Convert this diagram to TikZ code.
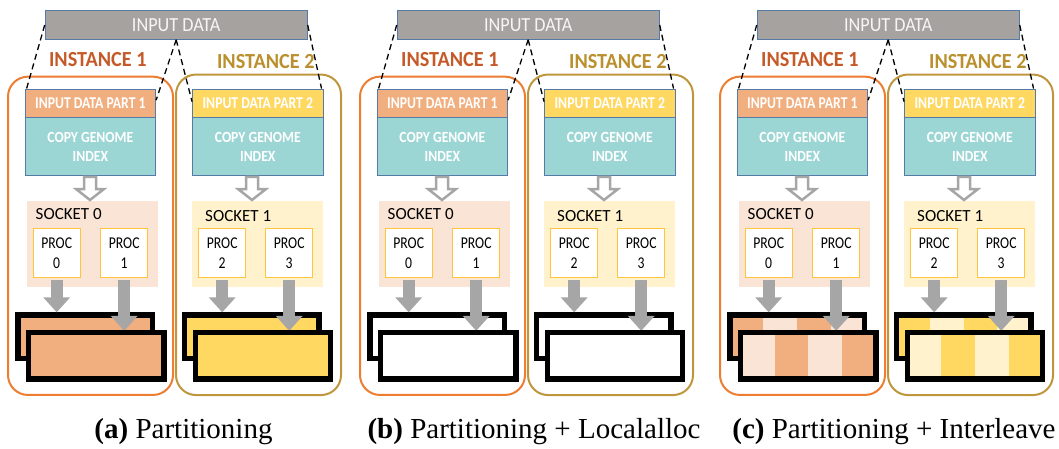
\documentclass[tikz,border=0pt]{standalone}
\usepackage{fontspec}
\setmainfont{Liberation Serif}
\newfontfamily\fInput[FakeStretch=0.91]{Carlito}
\newfontfamily\fInst[FakeStretch=0.94]{Carlito}
\newfontfamily\fPart[FakeStretch=0.83]{Carlito}
\newfontfamily\fCopy[FakeStretch=0.88]{Carlito}
\newfontfamily\fSock{Carlito}
\newfontfamily\fProc[FakeStretch=0.83]{Carlito}
\usetikzlibrary{arrows.meta,calc}

\definecolor{inputgray}{RGB}{166,162,160}
\definecolor{boxedge}{RGB}{84,122,165}
\definecolor{instA}{RGB}{197,90,40}
\definecolor{instB}{RGB}{186,143,45}
\definecolor{frameA}{RGB}{237,125,49}
\definecolor{frameB}{RGB}{191,150,60}
\definecolor{partA}{RGB}{241,174,126}
\definecolor{partB}{RGB}{255,216,98}
\definecolor{genome}{RGB}{156,214,212}
\definecolor{sockA}{RGB}{250,228,214}
\definecolor{sockB}{RGB}{255,242,204}
\definecolor{procedge}{RGB}{255,196,60}
\definecolor{arrgray}{RGB}{166,166,166}

% light stripe across a fraction of the box holding the path picture
\newcommand\quarterfill[3]{%
  \fill[#1] ($(path picture bounding box.south west)!#2!(path picture bounding box.south east)$)
    rectangle ($(path picture bounding box.north west)!#3!(path picture bounding box.north east)$);}

\tikzset{
  inbox/.style={draw=boxedge, line width=1pt, fill=inputgray, minimum width=262pt,
    minimum height=28.6pt, inner sep=0pt, text=white!93!gray,
    font=\fInput\fontsize{20}{22}\selectfont},
  instlabel/.style={inner sep=0pt, font=\fInst\bfseries\fontsize{21.5}{24}\selectfont},
  instframe/.style={rounded corners=20pt, line width=2pt, minimum width=165pt, inner sep=0pt},
  partbox/.style={draw=boxedge, line width=0.8pt, minimum width=130.7pt, minimum height=28.3pt,
    inner sep=0pt, text=white, font=\fPart\bfseries\fontsize{16.5}{18}\selectfont},
  genbox/.style={draw=boxedge, line width=0.8pt, fill=genome, minimum width=130.7pt,
    minimum height=58.4pt, inner sep=0pt, align=center, text=white,
    font=\fCopy\bfseries\fontsize{15.5}{19}\selectfont},
  sockbox/.style={minimum width=131pt, minimum height=85.7pt, inner sep=0pt},
  socktext/.style={anchor=west, inner sep=0pt, font=\fSock\fontsize{17}{19}\selectfont},
  procbox/.style={draw=procedge, line width=1pt, fill=white, minimum width=46.7pt,
    minimum height=49.7pt, inner sep=0pt, align=center,
    font=\fProc\fontsize{16.5}{19.7}\selectfont},
  membox/.style={draw=black, line width=5.5pt, inner sep=0pt},
  memback/.style={membox, minimum width=134.5pt, minimum height=43.2pt},
  memfront/.style={membox, minimum width=135.2pt, minimum height=46.2pt},
  stripeback/.style 2 args={fill=#1, path picture={\quarterfill{#2}{0.25}{0.5}\quarterfill{#2}{0.75}{1}}},
  stripefront/.style 2 args={fill=#1, path picture={\quarterfill{#2}{0}{0.25}\quarterfill{#2}{0.5}{0.75}}},
  garr/.style={draw=arrgray, line width=12pt, -{Triangle[width=26pt,length=15pt]}},
  hollow/.style={draw=arrgray, line width=2.5pt, fill=white, line join=miter},
  datalink/.style={dash pattern=on 6pt off 4pt, line width=1.3pt},
  capt/.style={anchor=base, inner sep=0pt, font=\fontsize{29}{32}\selectfont}
}

% one panel: prefix, x offset, memory styles (inst 1 back/front, inst 2 back/front)
\newcommand\drawpanel[6]{%
\begin{scope}[xshift=#2]
  % instance frames
  \node[instframe, draw=frameA, minimum height=318.3pt] (#1-f1) at (90.5,235.8) {};
  \node[instframe, draw=frameB, minimum height=320.5pt] (#1-f2) at (258.5,234.8) {};
  % shared input
  \node[inbox] (#1-in) at (176.2,25) {INPUT DATA};
  \node[instlabel, text=instA] (#1-l1) at (97.8,60) {INSTANCE 1};
  \node[instlabel, text=instB] (#1-l2) at (265.8,61.5) {INSTANCE 2};
  % per-instance data and index
  \node[partbox, fill=partA] (#1-p1) at (90.35,103.15) {INPUT DATA PART 1};
  \node[genbox] (#1-g1) at (90.35,146.5) {COPY GENOME\\INDEX};
  \node[partbox, fill=partB] (#1-p2) at (257.8,103.15) {INPUT DATA PART 2};
  \node[genbox] (#1-g2) at (257.8,146.5) {COPY GENOME\\INDEX};
  % split of the input
  \draw[datalink] (#1-in.west) -- ([xshift=2pt]#1-p1.north west);
  \draw[datalink] (#1-in.south) -- ([yshift=3pt]#1-p1.east);
  \draw[datalink] (#1-in.south) -- ([yshift=1.5pt]#1-p2.west);
  \draw[datalink] (#1-in.east) -- ([xshift=-2pt]#1-p2.north east);
  % sockets and processes
  \node[sockbox, fill=sockA] (#1-s0) at (92.2,243.85) {};
  \node[socktext] (#1-t0) at (35.5,214) {SOCKET 0};
  \node[procbox] (#1-c0) at (56.7,253) {PROC\\0};
  \node[procbox] (#1-c1) at (124.2,253) {PROC\\1};
  \node[sockbox, fill=sockB] (#1-s1) at (257.2,243.85) {};
  \node[socktext] (#1-t1) at (205,216) {SOCKET 1};
  \node[procbox] (#1-c2) at (222.2,253) {PROC\\2};
  \node[procbox] (#1-c3) at (289.2,253) {PROC\\3};
  % copy of the index into each socket
  \coordinate (#1-h1) at (90,177);
  \coordinate (#1-h2) at (252,177);
  \draw[hollow] (#1-h1) ++(-6,0) -- ++(0,12) -- ++(-8,0) -- ++(14,11) -- ++(14,-11) -- ++(-8,0) -- ++(0,-12) -- cycle;
  \draw[hollow] (#1-h2) ++(-6,0) -- ++(0,12) -- ++(-8,0) -- ++(14,11) -- ++(14,-11) -- ++(-8,0) -- ++(0,-12) -- cycle;
  % memory of each instance
  \node[memback, #3] (#1-mb1) at (85,336.7) {};
  \node[memback, #5] (#1-mb2) at (251.7,336.7) {};
  \draw[garr] ([yshift=-1.5pt]#1-c0.south) -- (#1-c0.south |- #1-mb1.north);
  \draw[garr] ([yshift=-1.5pt]#1-c1.south) -- (#1-c1.south |- #1-mb1.north) -- ++(0,18.5);
  \draw[garr] ([yshift=-1.5pt]#1-c2.south) -- (#1-c2.south |- #1-mb2.north);
  \draw[garr] ([yshift=-1.5pt]#1-c3.south) -- (#1-c3.south |- #1-mb2.north) -- ++(0,18.5);
  \node[memfront, #4] (#1-mf1) at (96.3,355.8) {};
  \node[memfront, #6] (#1-mf2) at (263,355.8) {};
\end{scope}}

\begin{document}
\begin{tikzpicture}[x=1pt,y=-1pt]
  \useasboundingbox (0,0) rectangle (1059,449);
  \drawpanel{a}{0}{fill=partA}{fill=partA}{fill=partB}{fill=partB}
  \drawpanel{b}{352}{fill=white}{fill=white}{fill=white}{fill=white}
  \drawpanel{c}{712}{stripeback={partA}{sockA}}{stripefront={partA}{sockA}}%
    {stripeback={partB}{sockB}}{stripefront={partB}{sockB}}
  \node[capt] (capa) at (183.5,438) {\textbf{(a)} Partitioning};
  \node[capt] (capb) at (534,438) {\textbf{(b)} Partitioning + Localalloc};
  \node[capt] (capc) at (894,438) {\textbf{(c)} Partitioning + Interleave};
\end{tikzpicture}
\end{document}
